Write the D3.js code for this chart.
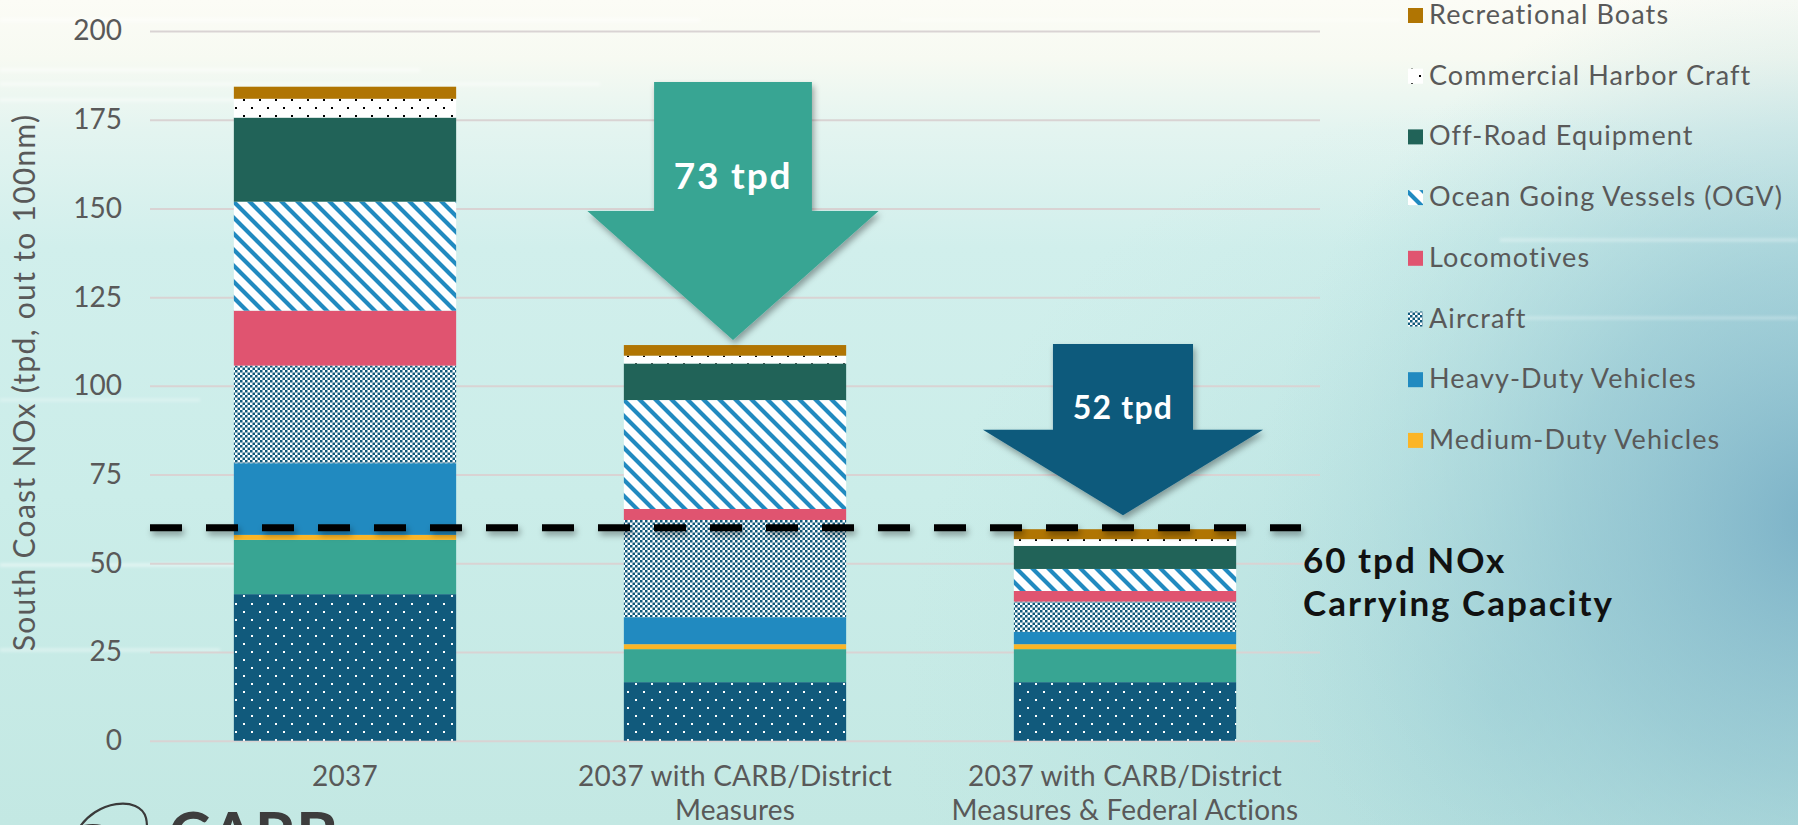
<!DOCTYPE html>
<html><head><meta charset="utf-8">
<script src="https://cdn.jsdelivr.net/npm/d3@7"></script>
<style>
html,body{margin:0;padding:0;overflow:hidden;background:#d6efeb}
svg{display:block}
</style></head><body>
<svg id="chart" width="1798" height="825"></svg>
<script>
// ---------------- DATA ----------------
const categories = ["2037", "2037 with CARB/District Measures", "2037 with CARB/District Measures & Federal Actions"];
const categoryLines = [["2037"], ["2037 with CARB/District", "Measures"], ["2037 with CARB/District", "Measures & Federal Actions"]];
const seriesNames = ["Stationary & Area Sources", "Light-Duty Vehicles", "Medium-Duty Vehicles", "Heavy-Duty Vehicles",
  "Aircraft", "Locomotives", "Ocean Going Vessels (OGV)", "Off-Road Equipment", "Commercial Harbor Craft", "Recreational Boats"];
const stationaryArea     = [41.3, 16.5, 16.5];
const lightDuty          = [15.3,  9.3,  9.3];
const mediumDuty         = [ 1.4,  1.4,  1.4];
const heavyDuty          = [20.2,  7.6,  3.5];
const aircraft           = [27.5, 27.4,  8.5];
const locomotives        = [15.5,  3.1,  3.0];
const oceanGoingVessels  = [30.7, 30.7,  6.2];
const offRoadEquipment   = [23.7, 10.3,  6.5];
const commercialHarbor   = [ 5.3,  2.2,  1.9];
const recreationalBoats  = [ 3.4,  3.0,  2.8];
const seriesValues = [stationaryArea, lightDuty, mediumDuty, heavyDuty, aircraft, locomotives,
  oceanGoingVessels, offRoadEquipment, commercialHarbor, recreationalBoats];
const legendNames = ["Recreational Boats", "Commercial Harbor Craft", "Off-Road Equipment", "Ocean Going Vessels (OGV)",
  "Locomotives", "Aircraft", "Heavy-Duty Vehicles", "Medium-Duty Vehicles"];
const yTicks = [0, 25, 50, 75, 100, 125, 150, 175, 200];
const yLabel = "South Coast NOx (tpd, out to 100nm)";
const carryingCapacity = 60;
const capacityLines = ["60 tpd NOx", "Carrying Capacity"];
const reductions = [
  {from: 0, to: 1, label: "73 tpd"},
  {from: 1, to: 2, label: "52 tpd"}
];

// ---------------- STYLE ----------------
const fills = {
  "Stationary & Area Sources": "url(#pDotsDark)",
  "Light-Duty Vehicles": "#38A593",
  "Medium-Duty Vehicles": "#FBB526",
  "Heavy-Duty Vehicles": "#218AC0",
  "Aircraft": "url(#pChecker)",
  "Locomotives": "#E05470",
  "Ocean Going Vessels (OGV)": "url(#pStripes)",
  "Off-Road Equipment": "#216358",
  "Commercial Harbor Craft": "url(#pDotsWhite)",
  "Recreational Boats": "#B07503"
};
const textGray = "#595959";
const FONT = "Lato, 'Noto Sans', sans-serif";

const W = 1798, H = 825;
const svg = d3.select("#chart");
const defs = svg.append("defs");

// background gradients
const bg = defs.append("linearGradient").attr("id", "bgV").attr("x1", 0).attr("y1", 0).attr("x2", 0).attr("y2", 1);
[[0, "#FCFCF6"], [0.07, "#F7FAF2"], [0.16, "#E3F4F0"], [0.3, "#D1EFEC"], [0.6, "#CBEDE9"], [1, "#C3E8E3"]]
  .forEach(s => bg.append("stop").attr("offset", s[0]).attr("stop-color", s[1]));
const rg = defs.append("radialGradient").attr("id", "bgR").attr("cx", 1820).attr("cy", 520).attr("r", 560)
  .attr("gradientUnits", "userSpaceOnUse");
[[0, "#6FA8C2", 0.85], [0.45, "#86BCCC", 0.55], [1, "#A9D8DA", 0]]
  .forEach(s => rg.append("stop").attr("offset", s[0]).attr("stop-color", s[1]).attr("stop-opacity", s[2]));
const rg2 = defs.append("radialGradient").attr("id", "bgR2").attr("cx", 1500).attr("cy", 700).attr("r", 600)
  .attr("gradientUnits", "userSpaceOnUse");
[[0, "#9CCFD6", 0.6], [1, "#B8E2E0", 0]]
  .forEach(s => rg2.append("stop").attr("offset", s[0]).attr("stop-color", s[1]).attr("stop-opacity", s[2]));

// patterns
function dotPattern(id, bgc, dotc) {
  const p = defs.append("pattern").attr("id", id).attr("patternUnits", "userSpaceOnUse")
    .attr("width", 16).attr("height", 16);
  p.append("rect").attr("width", 16).attr("height", 16).attr("fill", bgc);
  p.append("rect").attr("x", 3).attr("y", 3).attr("width", 2).attr("height", 2).attr("fill", dotc);
  p.append("rect").attr("x", 11).attr("y", 11).attr("width", 2).attr("height", 2).attr("fill", dotc);
}
dotPattern("pDotsDark", "#115A7C", "#FFFFFF");
dotPattern("pDotsWhite", "#FFFFFF", "#000000");
const ps = defs.append("pattern").attr("id", "pStripes").attr("patternUnits", "userSpaceOnUse")
  .attr("width", 16).attr("height", 16);
ps.append("rect").attr("width", 16).attr("height", 16).attr("fill", "#FFFFFF");
ps.append("path").attr("d", "M-4,-4 L20,20 M-12,4 L4,20 M12,-4 L28,12")
  .attr("stroke", "#218AC0").attr("stroke-width", 4.2).attr("fill", "none");
const pc = defs.append("pattern").attr("id", "pChecker").attr("patternUnits", "userSpaceOnUse")
  .attr("width", 5).attr("height", 5);
pc.append("rect").attr("width", 5).attr("height", 5).attr("fill", "#FFFFFF");
pc.append("rect").attr("width", 2.5).attr("height", 2.5).attr("fill", "#115A7C");
pc.append("rect").attr("x", 2.5).attr("y", 2.5).attr("width", 2.5).attr("height", 2.5).attr("fill", "#115A7C");

// shadow filter (user space so zero-height lines still render)
const f = defs.append("filter").attr("id", "shadow").attr("filterUnits", "userSpaceOnUse")
  .attr("x", 0).attr("y", 0).attr("width", W).attr("height", H);
f.append("feDropShadow").attr("dx", 2).attr("dy", 4).attr("stdDeviation", 3)
  .attr("flood-color", "#000").attr("flood-opacity", 0.35);
const blur = defs.append("filter").attr("id", "blur").attr("filterUnits", "userSpaceOnUse")
  .attr("x", 0).attr("y", 0).attr("width", W).attr("height", H);
blur.append("feGaussianBlur").attr("stdDeviation", 1.5);

// background
svg.append("rect").attr("width", W).attr("height", H).attr("fill", "url(#bgV)");
svg.append("rect").attr("width", W).attr("height", H).attr("fill", "url(#bgR2)");
svg.append("rect").attr("width", W).attr("height", H).attr("fill", "url(#bgR)");
const streaks = [[0, 20, 700, 0.6], [0, 70, 420, 0.55], [0, 84, 600, 0.5], [0, 100, 300, 0.45], [0, 565, 260, 0.5],
  [0, 650, 220, 0.4], [1500, 240, 298, 0.35], [1480, 318, 318, 0.3], [0, 400, 200, 0.3], [900, 20, 500, 0.3]];
svg.append("g").attr("filter", "url(#blur)").selectAll("line").data(streaks).join("line")
  .attr("x1", d => d[0]).attr("x2", d => d[0] + d[2]).attr("y1", d => d[1]).attr("y2", d => d[1])
  .attr("stroke", "#FFFFFF").attr("stroke-width", 3).attr("stroke-opacity", d => d[3]);

// ---------------- SCALES ----------------
const plotLeft = 150, plotRight = 1320;
const x = d3.scaleBand().domain(categories).range([plotLeft, plotRight]).paddingInner(0.43).paddingOuter(0.215);
const y = d3.scaleLinear().domain([0, 200]).range([740.7, 31]);

// gridlines + y labels
const yAxis = d3.axisLeft(y).tickValues(yTicks).tickSize(-(plotRight - plotLeft)).tickPadding(28);
const gy = svg.append("g").attr("transform", `translate(${plotLeft},0)`).call(yAxis);
gy.select(".domain").remove();
gy.selectAll(".tick line").attr("stroke", "#D9D3D3").attr("stroke-width", 2);
gy.selectAll(".tick text").attr("fill", textGray).attr("font-size", 28).attr("font-family", FONT);

svg.append("text").attr("transform", `translate(35,${(110 + 655) / 2}) rotate(-90)`)
  .attr("text-anchor", "middle").attr("fill", textGray).attr("font-size", 30).attr("letter-spacing", 1.3)
  .attr("font-family", FONT).text(yLabel);

// ---------------- BARS ----------------
const rows = categories.map((c, i) => {
  const r = {category: c};
  seriesNames.forEach((s, j) => r[s] = seriesValues[j][i]);
  return r;
});
const stacked = d3.stack().keys(seriesNames)(rows);
svg.append("g").selectAll("g").data(stacked).join("g")
  .attr("fill", d => fills[d.key])
  .selectAll("rect").data(d => d).join("rect")
  .attr("x", d => x(d.data.category))
  .attr("width", x.bandwidth())
  .attr("y", d => y(d[1]))
  .attr("height", d => y(d[0]) - y(d[1]));

const totals = rows.map(r => d3.sum(seriesNames, s => r[s]));

// x labels
const gx = svg.append("g");
categories.forEach((c, i) => {
  const t = gx.append("text").attr("x", x(c) + x.bandwidth() / 2).attr("y", y(0) + 45)
    .attr("text-anchor", "middle").attr("fill", textGray).attr("font-size", 28).attr("letter-spacing", 0.2)
    .attr("font-family", FONT);
  categoryLines[i].forEach((ln, k) => t.append("tspan").attr("x", x(c) + x.bandwidth() / 2)
    .attr("dy", k === 0 ? 0 : 34).text(ln));
});

// ---------------- CARRYING CAPACITY LINE ----------------
svg.append("line").attr("x1", plotLeft).attr("x2", 1301)
  .attr("y1", y(carryingCapacity)).attr("y2", y(carryingCapacity))
  .attr("stroke", "#000").attr("stroke-width", 7).attr("stroke-dasharray", "32 24")
  .attr("filter", "url(#shadow)");
const capText = svg.append("text").attr("x", 1303).attr("y", y(carryingCapacity) + 45)
  .attr("fill", "#111").attr("font-size", 35).attr("font-weight", 700).attr("letter-spacing", 2)
  .attr("font-family", FONT);
capacityLines.forEach((ln, k) => capText.append("tspan").attr("x", 1303).attr("dy", k === 0 ? 0 : 43).text(ln));

// ---------------- ARROWS ----------------
const arrowStyle = [
  {color: "#38A593", shaft: 0.71, head: 1.31, topPad: 1.3, tipPad: 1.4, fs: 37, ls: 1.8, textUp: 22},
  {color: "#115A7C", shaft: 0.63, head: 1.26, topPad: 0.3, tipPad: 3.9, fs: 32, ls: 1.2, textUp: 11}
];
reductions.forEach((r, i) => {
  const st = arrowStyle[i];
  const cx = x(categories[r.to]) + x.bandwidth() / 2 - 2;
  const top = y(totals[r.from] + st.topPad);
  const tip = y(totals[r.to] + st.tipPad);
  const headY = top + (tip - top) * 0.5;
  const bw = x.bandwidth();
  const sw = bw * st.shaft / 2, hw = bw * st.head / 2;
  const pts = [[cx - sw, top], [cx + sw, top], [cx + sw, headY], [cx + hw, headY], [cx, tip],
    [cx - hw, headY], [cx - sw, headY]];
  svg.append("path").attr("d", d3.line()(pts) + "Z").attr("fill", st.color).attr("filter", "url(#shadow)");
  svg.append("text").attr("x", cx).attr("y", headY - st.textUp).attr("text-anchor", "middle")
    .attr("fill", "#FFFFFF").attr("font-size", st.fs).attr("font-weight", 700).attr("letter-spacing", st.ls)
    .attr("font-family", FONT).text(r.label);
});

// ---------------- LEGEND ----------------
const lg = svg.append("g");
legendNames.forEach((n, i) => {
  const by = 24 + i * 60.7;
  lg.append("rect").attr("x", 1408).attr("y", by - 16).attr("width", 15).attr("height", 15).attr("fill", fills[n]);
  lg.append("text").attr("x", 1429).attr("y", by).attr("fill", textGray).attr("font-size", 27)
    .attr("letter-spacing", 1.1).attr("font-family", FONT).text(n);
});

// ---------------- LOGO (partially visible) ----------------
const logo = svg.append("g").attr("fill", "none").attr("stroke", "#3a3a3a").attr("stroke-width", 2.2);
logo.append("ellipse").attr("cx", 88).attr("cy", 852).attr("rx", 33).attr("ry", 26).attr("transform", "rotate(-20,88,852)");
logo.append("path").attr("d", "M78,830 C95,800 140,795 146,818 C150,835 140,850 130,860");
svg.append("text").attr("x", 168).attr("y", 858).attr("fill", "#3d3d3d").attr("font-size", 64)
  .attr("font-family", FONT).attr("font-weight", 700).text("CARB");
</script>
</body></html>
